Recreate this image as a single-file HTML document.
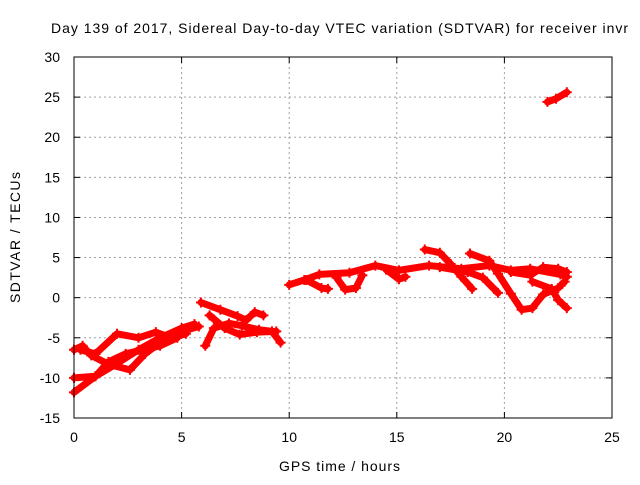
<!DOCTYPE html>
<html><head><meta charset="utf-8"><style>
body{margin:0;background:#fff}
svg text{font-family:"Liberation Sans",sans-serif;font-size:14px;fill:#000}
</style></head><body>
<svg width="640" height="480">
<text x="51" y="33" textLength="577" lengthAdjust="spacing">Day 139 of 2017, Sidereal Day-to-day VTEC variation (SDTVAR) for receiver invr</text>
<g id="grid"></g>
<g id="axes"></g>
<g id="series"></g>
<rect x="74" y="57" width="538" height="361" fill="none" stroke="#000" stroke-width="1"/>
<text x="279" y="471" textLength="121" lengthAdjust="spacing">GPS time / hours</text>
<text transform="translate(20,303) rotate(-90)" textLength="131" lengthAdjust="spacing">SDTVAR / TECUs</text>
</svg>
<script>
const xTicks=[0,5,10,15,20,25];
const yTicks=[-15,-10,-5,0,5,10,15,20,25,30];
const track1=[[0,-11.8],[1,-9.8],[2,-8.2],[3,-6.5],[4,-5],[5,-3.8],[5.6,-3.3]];
const track2=[[0,-10],[1,-9.8],[1.6,-8],[2.4,-7],[3.2,-6.5],[4,-6],[4.8,-5]];
const track3=[[0,-6.5],[0.4,-6],[0.8,-7.2],[1.6,-8.3],[2.6,-9],[3.3,-7],[4.2,-5.2],[5,-4.2],[5.8,-3.6]];
const track4=[[0.3,-6.5],[1,-7],[2,-4.5],[3,-5],[3.8,-4.3],[4.5,-5],[5.2,-4.5]];
const track5=[[5.9,-0.6],[6.8,-1.5],[7.6,-2.3],[8,-2.8],[8.4,-1.8],[8.8,-2.2]];
const track6=[[6.1,-6],[6.5,-3.8],[7.2,-3.2],[7.8,-3.5],[8.6,-4],[9.2,-4.2],[9.6,-5.6]];
const track7=[[6.3,-2.2],[7,-3.8],[7.7,-4.6],[8.5,-4.3],[9.4,-4.2]];
const track8=[[10,1.6],[10.7,2.2],[11.4,2.9],[12.8,3.1],[14,4],[15.1,3.4],[16.5,4],[18,3.6],[19.3,4],[20.3,3.4],[21.2,3.6],[22.6,2.9],[22.9,2.6]];
const track9=[[10.8,2.2],[11.5,1.2],[11.8,1.1]];
const track10=[[12.2,2.5],[12.6,1],[13.1,1.2],[13.4,2.8]];
const track11=[[14.5,3.5],[15.1,2.3],[15.4,2.6]];
const track12=[[16.3,6],[17,5.6],[17.5,4.2],[18,2.6],[18.5,1.1]];
const track13=[[17,3.8],[18.3,3.2],[19,2.5],[19.7,0.6]];
const track14=[[18.4,5.5],[19.3,4.6],[19.7,3],[20.3,0.5],[20.8,-1.5],[21.3,-1.3],[21.8,0.4],[22.5,1.2],[22.8,2]];
const track15=[[21.3,2],[22.2,1.1],[22.5,-0.3],[22.9,-1.3]];
const track16=[[20.3,3.2],[21.2,2.8],[21.8,3.8],[22.5,3.6],[22.9,3.2]];
const track17=[[22,24.4],[22.4,24.8],[22.9,25.6]];
const tracks=[track1,track2,track3,track4,track5,track6,track7,track8,track9,track10,track11,track12,track13,track14,track15,track16,track17];
const X0=74,X1=612,Y0=418,Y1=57;
const xs=t=>X0+(t-0)/25*(X1-X0);
const ys=v=>Y0-(v+15)/45*(Y0-Y1);
const NS='http://www.w3.org/2000/svg';
const grid=document.getElementById('grid'),axes=document.getElementById('axes'),ser=document.getElementById('series');
function mk(tag,attrs,parent){const e=document.createElementNS(NS,tag);for(const k in attrs)e.setAttribute(k,attrs[k]);parent.appendChild(e);return e;}
xTicks.forEach(t=>{const x=xs(t);
 if(t>0&&t<25){const g=mk('line',{x1:x,x2:x,y1:Y1,y2:Y0,stroke:'#a0a0a0','stroke-dasharray':'2,3'},grid);
 
 }
 mk('line',{x1:x,x2:x,y1:Y0,y2:Y0-6,stroke:'#000'},axes);
 mk('line',{x1:x,x2:x,y1:Y1,y2:Y1+6,stroke:'#000'},axes);
 const l=mk('text',{x:x,y:Y0+24,'text-anchor':'middle'},axes);l.textContent=t;
 
 });
yTicks.forEach(v=>{const y=ys(v);
 if(v>-15&&v<30){const g=mk('line',{x1:X0,x2:X1,y1:y,y2:y,stroke:'#a0a0a0','stroke-dasharray':'2,3'},grid);
 
 }
 mk('line',{x1:X0,x2:X0+6,y1:y,y2:y,stroke:'#000'},axes);
 mk('line',{x1:X1,x2:X1-6,y1:y,y2:y,stroke:'#000'},axes);
 const l=mk('text',{x:X0-14,y:y+5,'text-anchor':'end'},axes);l.textContent=v;
 
 });
tracks.forEach((tr,i)=>{
 const p=mk('polyline',{points:tr.map(d=>xs(d[0])+','+ys(d[1])).join(' '),fill:'none',stroke:'#ff0000','stroke-width':7,'stroke-linejoin':'round','stroke-linecap':'round'},ser);
 
 
 tr.forEach(d=>{const x=xs(d[0]),y=ys(d[1]);
  const m=mk('path',{d:`M${x-5},${y}H${x+5}M${x},${y-5}V${y+5}`,stroke:'#ff0000','stroke-width':2},ser);
  
  });
});
</script>
</body></html>
